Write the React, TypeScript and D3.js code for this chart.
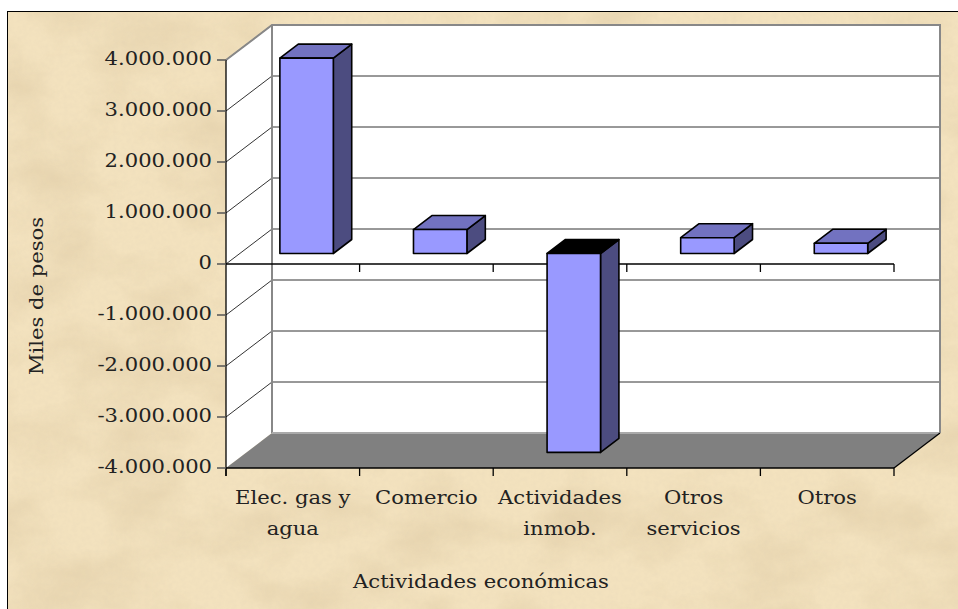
import React from "react";
import * as d3 from "d3";

// datos (miles de pesos)
const categories = [
  ["Elec. gas y", "agua"],
  ["Comercio"],
  ["Actividades", "inmob."],
  ["Otros", "servicios"],
  ["Otros"],
];
const values = [3830000, 470000, -3900000, 310000, 200000];
const yTicks = [-4000000, -3000000, -2000000, -1000000, 0, 1000000, 2000000, 3000000, 4000000];
const yTitle = "Miles de pesos";
const xTitle = "Actividades económicas";

const W = 958;
const H = 609;
// oblique depth vector (front plane -> back wall)
const DX = 46;
const DY = -35;
const BAR_FRONT = 0.3;
const BAR_BACK = 0.7;

const fmt = d3
  .formatLocale({ decimal: ",", thousands: ".", grouping: [3], currency: ["$", ""], minus: "-" })
  .format(",");

const FONT = "'DejaVu Serif', serif";
const SX = 1.2;

const Label = ({ x, y, anchor = "middle", children, size = 17.6 }: any) => (
  <text
    transform={`translate(${x},${y}) scale(${SX},1)`}
    textAnchor={anchor}
    fontFamily={FONT}
    fontSize={size}
    fill="#222"
  >
    {children}
  </text>
);

export default function App() {
  const x0 = 226;
  const x1 = 894;
  const x = d3
    .scaleBand<number>()
    .domain(d3.range(values.length))
    .range([x0, x1])
    .paddingInner(0.6)
    .paddingOuter(0.3);
  const y = d3.scaleLinear().domain([-4000000, 4000000]).range([468, 60]);
  const bounds = d3.range(values.length + 1).map((i) => x0 + (i * (x1 - x0)) / values.length);

  const yTop = y(4000000);
  const yBot = y(-4000000);
  const y0 = y(0);

  const pts = (arr: number[][]) => arr.map((p) => p.join(",")).join(" ");

  const bars = values.map((v, i) => {
    const fx = x(i)! + BAR_FRONT * DX;
    const fdy = BAR_FRONT * DY;
    const bdx = (BAR_BACK - BAR_FRONT) * DX;
    const bdy = (BAR_BACK - BAR_FRONT) * DY;
    const w = x.bandwidth();
    const top = Math.min(y(v), y0) + fdy;
    const bot = Math.max(y(v), y0) + fdy;
    const front = [[fx, top], [fx + w, top], [fx + w, bot], [fx, bot]];
    const topFace = [[fx, top], [fx + bdx, top + bdy], [fx + w + bdx, top + bdy], [fx + w, top]];
    const side = [[fx + w, top], [fx + w + bdx, top + bdy], [fx + w + bdx, bot + bdy], [fx + w, bot]];
    return (
      <g key={i} stroke="#000" strokeWidth={1.6} strokeLinejoin="round">
        <polygon points={pts(side)} fill="#4c4c80" />
        <polygon points={pts(topFace)} fill={v < 0 ? "#000" : "#7272c0"} />
        <polygon points={pts(front)} fill="#9999ff" />
      </g>
    );
  });

  return (
    <svg width={W} height={H} style={{ position: "absolute", left: 0, top: 0 }}>
      <defs>
        <filter id="paper" x="0" y="0" width="100%" height="100%">
          <feTurbulence type="fractalNoise" baseFrequency="0.011 0.018" numOctaves={4} seed={7} />
          <feColorMatrix
            type="matrix"
            values="0 0 0 0 0.72  0 0 0 0 0.58  0 0 0 0 0.36  0 0 0 1.1 -0.42"
          />
        </filter>
        <filter id="grain" x="0" y="0" width="100%" height="100%">
          <feTurbulence type="fractalNoise" baseFrequency="0.22" numOctaves={2} seed={2} />
          <feColorMatrix
            type="matrix"
            values="0 0 0 0 0.7  0 0 0 0 0.6  0 0 0 0 0.45  0 0 0 0.5 -0.18"
          />
        </filter>
      </defs>
      <rect width={W} height={H} fill="#fff" />
      <rect x={7.5} y={11.5} width={W} height={H} fill="#f3e2be" stroke="#000" strokeWidth={1} />
      <rect x={8} y={12} width={W} height={H} filter="url(#paper)" />
      <rect x={8} y={12} width={W} height={H} filter="url(#grain)" opacity={0.5} />

      {/* walls */}
      <rect x={x0 + DX} y={yTop + DY} width={x1 - x0} height={yBot - yTop} fill="#fff" />
      <polygon
        points={pts([[x0, yTop], [x0 + DX, yTop + DY], [x0 + DX, yBot + DY], [x0, yBot]])}
        fill="#fff"
      />
      <polygon
        points={pts([[x0, yBot], [x0 + DX, yBot + DY], [x1 + DX, yBot + DY], [x1, yBot]])}
        fill="#808080"
      />

      {/* gridlines */}
      {yTicks.map((t) => (
        <g key={t} stroke="#333" strokeWidth={1}>
          {t > -4000000 && t < 4000000 && (
            <line x1={x0 + DX} x2={x1 + DX} y1={y(t) + DY} y2={y(t) + DY} />
          )}
          {t > -4000000 && <line x1={x0} y1={y(t)} x2={x0 + DX} y2={y(t) + DY} />}
        </g>
      ))}
      {/* wall edges */}
      <g stroke="#888" strokeWidth={2} fill="none">
        <polyline
          points={pts([[x0, yTop], [x0 + DX, yTop + DY], [x1 + DX, yTop + DY], [x1 + DX, yBot + DY]])}
        />
        <line x1={x0 + DX} x2={x0 + DX} y1={yTop + DY} y2={yBot + DY} />
        <line x1={x0 + DX} x2={x1 + DX} y1={yBot + DY} y2={yBot + DY} stroke="#aaa" />
      </g>

      {/* axes */}
      <g stroke="#000" strokeWidth={1.3}>
        <line x1={x0} x2={x0} y1={yTop} y2={yBot + 8} />
        <line x1={x0} x2={x1} y1={yBot} y2={yBot} />
        <line x1={x1} y1={yBot} x2={x1 + DX} y2={yBot + DY} />
        <line x1={x0} x2={x1} y1={y0} y2={y0} />
        {bounds.map((b, i) => (
          <g key={i}>
            <line x1={b} x2={b} y1={yBot} y2={yBot + 8} />
            {i > 0 && <line x1={b} x2={b} y1={y0} y2={y0 + 8} />}
          </g>
        ))}
      </g>
      {yTicks.map((t) => (
        <line key={t} x1={x0 - 9} x2={x0} y1={y(t)} y2={y(t)} stroke="#555" strokeWidth={1.5} />
      ))}

      {bars}

      {/* labels */}
      {yTicks.map((t) => (
        <Label key={t} x={212} y={y(t) + 5} anchor="end">
          {fmt(t)}
        </Label>
      ))}
      {categories.map((lines, i) =>
        lines.map((l, j) => (
          <Label key={i + "-" + j} x={x(i)! + x.bandwidth() / 2} y={504 + j * 31}>
            {l}
          </Label>
        ))
      )}
      <Label x={481} y={588}>
        {xTitle}
      </Label>
      <text
        transform={`translate(43,${(yTop + yBot) / 2 + 32}) rotate(-90) scale(${SX},1)`}
        textAnchor="middle"
        fontFamily={FONT}
        fontSize={17.6}
        fill="#222"
      >
        {yTitle}
      </text>
    </svg>
  );
}
